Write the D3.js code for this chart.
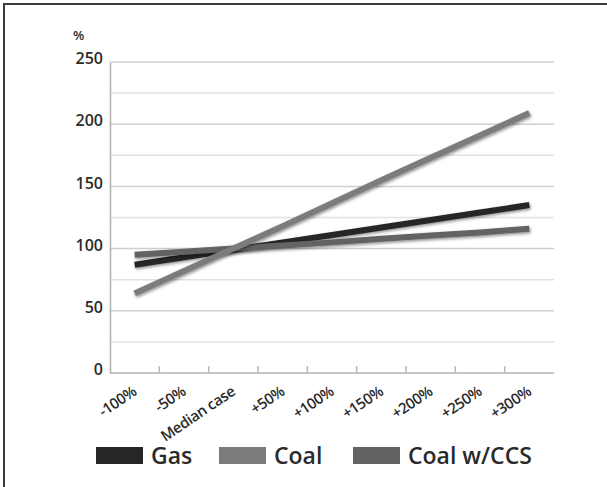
<!DOCTYPE html>
<html>
<head>
<meta charset="utf-8">
<script src="https://cdn.jsdelivr.net/npm/d3@7"></script>
<style>
  body { margin: 0; background: #fff; }
  text { font-family: "Open Sans", "Noto Sans", sans-serif; fill: #2a2a2a; }
</style>
</head>
<body>
<div id="chart"></div>
<script>
// data
const categories = ["-100%", "-50%", "Median case", "+50%", "+100%", "+150%", "+200%", "+250%", "+300%"];
const gasValues  = [87, 93, 99, 105, 111, 117, 123, 129, 135];
const coalValues = [64, 82, 100, 118, 136.5, 155, 173, 191, 209];
const ccsValues  = [95, 97.5, 100, 102.5, 105, 108, 110.5, 113, 116];
const yTicks = [0, 50, 100, 150, 200, 250];
const seriesNames = ["Gas", "Coal", "Coal w/CCS"];
const seriesColors = ["#262626", "#7c7c7c", "#636363"];

const W = 607, H = 487;
const margin = {top: 62, left: 110, right: 53, bottom: 114};
const width = W - margin.left - margin.right,
      height = H - margin.top - margin.bottom;

const svg = d3.select("#chart").append("svg")
  .attr("width", W).attr("height", H);

// outer frame (top and left edges visible)
svg.append("rect")
  .attr("x", 4).attr("y", 4).attr("width", 800).attr("height", 800)
  .attr("fill", "none").attr("stroke", "#3a3a3a").attr("stroke-width", 2);

const defs = svg.append("defs");
const shadow = defs.append("filter").attr("id", "shadow")
  .attr("x", "-10%").attr("y", "-50%").attr("width", "120%").attr("height", "200%");
shadow.append("feDropShadow")
  .attr("dx", 1).attr("dy", 1.5).attr("stdDeviation", 1.5)
  .attr("flood-color", "#000").attr("flood-opacity", 0.45);

const g = svg.append("g").attr("transform", `translate(${margin.left},${margin.top})`);

const x = d3.scaleBand().domain(categories).range([0, width]);
const y = d3.scaleLinear().domain([0, 250]).range([height, 0]);

// gridlines every 25
g.append("g").selectAll("line")
  .data(d3.range(25, 251, 25))
  .join("line")
    .attr("x1", 0).attr("x2", width)
    .attr("y1", d => y(d)).attr("y2", d => y(d))
    .attr("stroke", d => d % 50 === 0 ? "#cfcfcf" : "#e2e2e2")
    .attr("stroke-width", 1.5);

// y axis
const yAxis = g.append("g")
  .call(d3.axisLeft(y).tickValues(yTicks).tickSize(0).tickPadding(7));
yAxis.select(".domain").attr("stroke", "#b0b0b0").attr("stroke-width", 1.5);
yAxis.selectAll("text").attr("font-size", 16).attr("font-weight", 600).attr("fill", "#2a2a2a").attr("dy", "0.1em");

g.append("text")
  .attr("x", -37).attr("y", -22)
  .attr("font-size", 13).attr("font-weight", 600)
  .text("%");

// x axis: ticks at band boundaries, pointing up
const xAxis = g.append("g").attr("transform", `translate(0,${height})`);
xAxis.append("line")
  .attr("x1", 0).attr("x2", width)
  .attr("stroke", "#b0b0b0").attr("stroke-width", 1.5);
xAxis.selectAll(".tick")
  .data(categories.slice(1))
  .join("line")
    .attr("class", "tick")
    .attr("x1", d => x(d)).attr("x2", d => x(d))
    .attr("y1", 0).attr("y2", -7)
    .attr("stroke", "#b8b8b8").attr("stroke-width", 1.5);
xAxis.selectAll(".lbl")
  .data(categories)
  .join("text")
    .attr("class", "lbl")
    .attr("text-anchor", "end")
    .attr("font-size", 15)
    .attr("font-weight", 600)
    .attr("letter-spacing", -0.4)
    .attr("transform", d => `translate(${x(d) + x.bandwidth() / 2 + 3},${21}) rotate(-34)`)
    .text(d => d);

// lines
const line = d3.line()
  .x((d, i) => x(categories[i]) + x.bandwidth() / 2)
  .y(d => y(d));

const drawOrder = [[gasValues, 0], [ccsValues, 2], [coalValues, 1]];
drawOrder.forEach(([vals, k]) => {
  g.append("path")
    .datum(vals)
    .attr("fill", "none")
    .attr("stroke", seriesColors[k])
    .attr("stroke-width", 6)
    .attr("filter", "url(#shadow)")
    .attr("d", line);
});

// legend
const legendX = [96, 219, 353];
const legend = svg.append("g");
seriesNames.forEach((name, i) => {
  legend.append("rect")
    .attr("x", legendX[i]).attr("y", 447)
    .attr("width", 47).attr("height", 17)
    .attr("fill", seriesColors[i]);
  legend.append("text")
    .attr("x", legendX[i] + 55).attr("y", 464)
    .attr("font-size", 23)
    .attr("font-weight", 600)
    .text(name);
});
</script>
</body>
</html>
